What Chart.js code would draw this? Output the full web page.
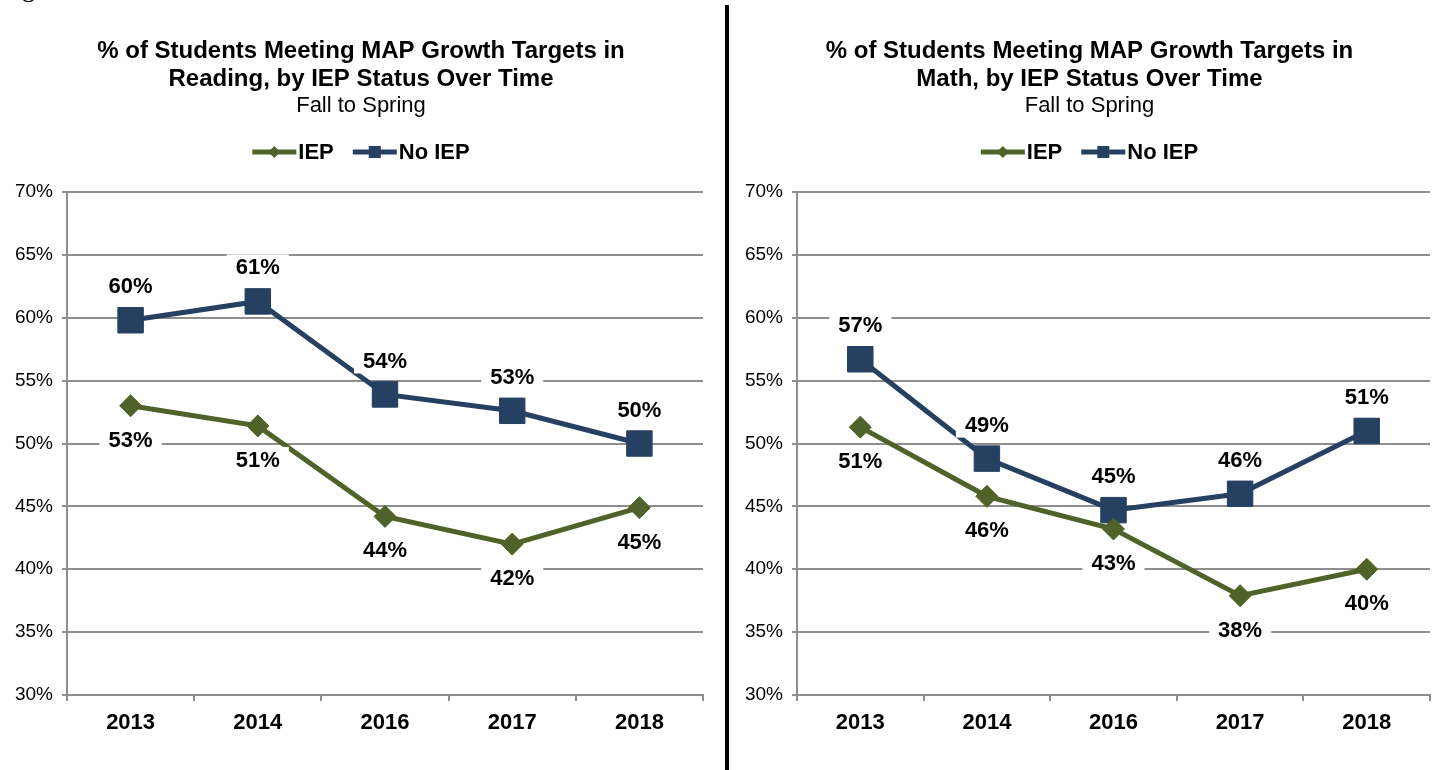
<!DOCTYPE html>
<html>
<head>
<meta charset="utf-8">
<script src="https://cdn.jsdelivr.net/npm/chart.js@4.4.1/dist/chart.umd.min.js"></script>
<style>
  html, body { margin: 0; padding: 0; background: #fff; }
  body { width: 1440px; height: 770px; position: relative; overflow: hidden; }
  #chart-reading { position: absolute; left: 0; top: 0; }
  #chart-math { position: absolute; left: 730px; top: 0; }
  .divider { position: absolute; left: 725px; top: 5px; width: 4px; height: 765px; background: #000; }
  .frag { position: absolute; left: 22px; top: -24px; font: 26px/26px "Liberation Serif", serif; color: #000; }
</style>
</head>
<body>
<div class="frag">g</div>
<canvas id="chart-reading" width="722" height="770"></canvas>
<div class="divider"></div>
<canvas id="chart-math" width="719" height="770"></canvas>
<script>
// --- datos ---
const YEARS = ['2013', '2014', '2016', '2017', '2018'];
const READING_IEP = [53.0, 51.4, 44.2, 42.0, 44.9];
const READING_NO_IEP = [59.8, 61.3, 53.9, 52.6, 50.0];
const MATH_IEP = [51.3, 45.8, 43.2, 37.9, 40.0];
const MATH_NO_IEP = [56.7, 48.8, 44.7, 46.0, 51.0];
const Y_TICKS = [30, 35, 40, 45, 50, 55, 60, 65, 70];
const SERIES = ['IEP', 'No IEP'];
const TITLE_READING = ['% of Students Meeting MAP Growth Targets in', 'Reading, by IEP Status Over Time'];
const TITLE_MATH = ['% of Students Meeting MAP Growth Targets in', 'Math, by IEP Status Over Time'];
const SUBTITLE = 'Fall to Spring';

const GREEN = '#4F6228';
const NAVY = '#254061';
const GRID = '#8E8E8E';
const FONT = '"Liberation Sans", Arial, sans-serif';
Chart.defaults.font.family = FONT;

// si hay fuente estrecha se usa para las etiquetas (como en el original)
function hasFont(name) {
  const c = document.createElement('canvas').getContext('2d');
  c.font = 'bold 40px monospace';
  const a = c.measureText('2013 IEP 42%').width;
  c.font = 'bold 40px "' + name + '", monospace';
  return c.measureText('2013 IEP 42%').width !== a;
}
const NARROW = hasFont('Liberation Sans Narrow');
const LABEL_FONT = NARROW ? 'bold 25px "Liberation Sans Narrow", ' + FONT : 'bold 22px ' + FONT;

// etiquetas de valor con fondo blanco
const pointLabels = {
  id: 'pointLabels',
  afterDatasetsDraw(chart) {
    const ctx = chart.ctx;
    ctx.save();
    ctx.font = LABEL_FONT;
    ctx.textAlign = 'center';
    ctx.textBaseline = 'middle';
    chart.data.datasets.forEach(function (ds, i) {
      chart.getDatasetMeta(i).data.forEach(function (pt, j) {
        const txt = Math.round(ds.data[j]) + '%';
        const x = pt.x, y = pt.y + ds.labelOffset;
        const w = ctx.measureText(txt).width + 18;
        ctx.fillStyle = '#fff';
        ctx.fillRect(x - w / 2, y - 13, w, 26);
        ctx.fillStyle = '#000';
        ctx.fillText(txt, x, y + 1);
      });
    });
    ctx.restore();
  }
};

// leyenda manual: linea + marcador
const lineLegend = {
  id: 'lineLegend',
  afterDraw(chart) {
    const ctx = chart.ctx;
    const y = 152, sym = 44, gapText = 2, gapItem = 19;
    ctx.save();
    ctx.font = 'bold 22px ' + FONT;
    ctx.textAlign = 'left';
    ctx.textBaseline = 'middle';
    const items = chart.data.datasets.map(function (ds) {
      return { ds: ds, tw: ctx.measureText(ds.label).width };
    });
    const total = items.reduce(function (s, it) { return s + sym + gapText + it.tw; }, 0) + gapItem * (items.length - 1);
    let x = (chart.width - total) / 2;
    items.forEach(function (it) {
      const c = it.ds.borderColor;
      ctx.strokeStyle = c;
      ctx.lineWidth = 5;
      ctx.beginPath(); ctx.moveTo(x, y); ctx.lineTo(x + sym, y); ctx.stroke();
      ctx.fillStyle = c;
      const cx = x + sym / 2;
      if (it.ds.pointStyle === 'rect') {
        ctx.fillRect(cx - 6, y - 6, 12, 12);
      } else {
        ctx.beginPath();
        ctx.moveTo(cx - 6, y); ctx.lineTo(cx, y - 6); ctx.lineTo(cx + 6, y); ctx.lineTo(cx, y + 6);
        ctx.closePath(); ctx.fill();
      }
      ctx.fillStyle = '#000';
      ctx.fillText(it.ds.label, x + sym + gapText, y + 1);
      x += sym + gapText + it.tw + gapItem;
    });
    ctx.restore();
  }
};

// rightGap: eje vacio a la derecha para que el titulo quede centrado en el lienzo
function makeChart(id, title, iep, noIep, rightGap) {
  return new Chart(document.getElementById(id), {
    type: 'line',
    data: {
      labels: YEARS,
      datasets: [
        {
          label: SERIES[0], data: iep, borderColor: GREEN, backgroundColor: GREEN,
          borderWidth: 5, pointStyle: 'rectRot', pointRadius: 11, pointHoverRadius: 11,
          pointBorderWidth: 1, labelOffset: 34, tension: 0,
        },
        {
          label: SERIES[1], data: noIep, borderColor: NAVY, backgroundColor: NAVY,
          borderWidth: 5, pointStyle: 'rect', pointRadius: 18, pointHoverRadius: 18,
          pointBorderWidth: 1, labelOffset: -34, tension: 0,
        },
      ],
    },
    options: {
      responsive: false, animation: false,
      layout: { padding: 0 },
      plugins: {
        legend: { display: false },
        tooltip: { enabled: false },
        title: {
          display: true, text: title, color: '#000',
          font: { size: 24, weight: 'bold', lineHeight: 28 / 24 },
          padding: { top: 37, bottom: 0 },
        },
        subtitle: {
          display: true, text: SUBTITLE, color: '#000',
          font: { size: 22, lineHeight: 1.2 },
          padding: { top: 0, bottom: 72.6 },
        },
      },
      scales: {
        x: {
          offset: true,
          grid: { display: true, drawOnChartArea: false, drawTicks: true, tickLength: 6, color: GRID, lineWidth: 2, offset: true },
          border: { color: GRID, width: 2 },
          ticks: { color: '#000', font: { size: 22, weight: 'bold' }, padding: 9 },
          afterFit: function (s) { s.height = 75; },
        },
        y: {
          min: Y_TICKS[0], max: Y_TICKS[Y_TICKS.length - 1],
          afterBuildTicks: function (s) { s.ticks = Y_TICKS.map(function (v) { return { value: v }; }); },
          ticks: { callback: function (v) { return v + '%'; }, color: '#000', font: { size: 19 }, padding: 9 },
          grid: { color: GRID, lineWidth: 2, tickLength: 5 },
          border: { color: GRID, width: 2 },
          afterFit: function (s) { s.width = 67; },
        },
        gap: {
          position: 'right', display: true,
          grid: { display: false }, border: { display: false }, ticks: { display: false },
          afterFit: function (s) { s.width = rightGap; },
        },
      },
    },
    plugins: [pointLabels, lineLegend],
  });
}

makeChart('chart-reading', TITLE_READING, READING_IEP, READING_NO_IEP, 19);
makeChart('chart-math', TITLE_MATH, MATH_IEP, MATH_NO_IEP, 17);
</script>
</body>
</html>
